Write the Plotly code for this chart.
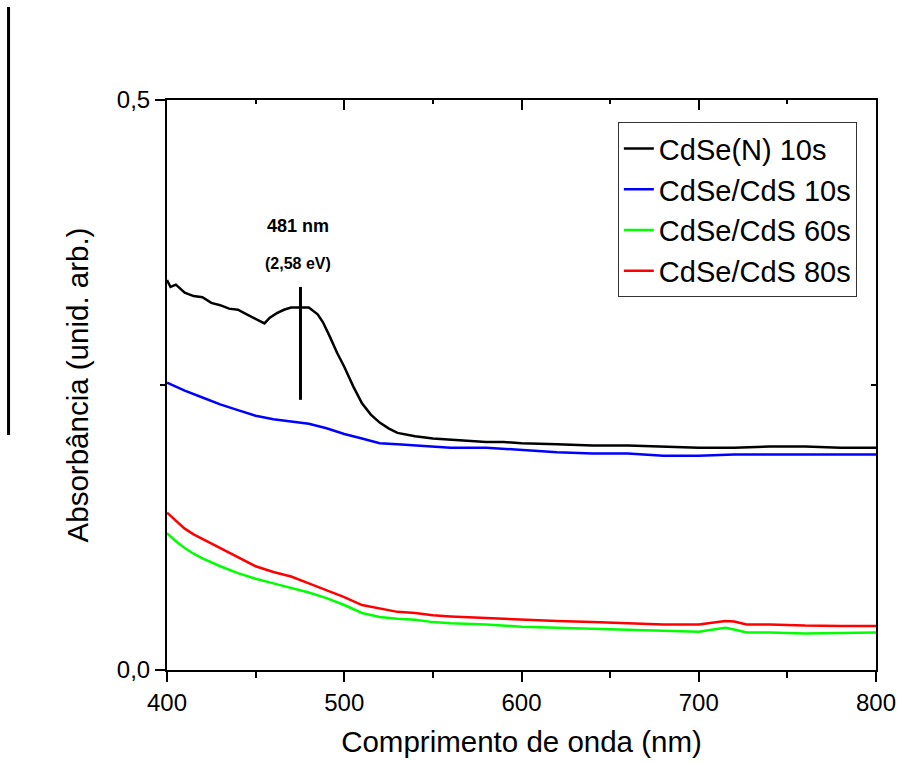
import plotly.graph_objects as go

# ---- data ----
wl_black = [400, 402, 405, 410, 415, 420, 425, 430, 435, 440, 445, 450, 455, 458, 462, 466, 470, 475, 480,
            485, 488, 492, 496, 500, 505, 510, 515, 520, 525, 530, 540, 550, 560, 570, 580, 590, 600, 620,
            640, 660, 680, 700, 720, 740, 760, 780, 800]
abs_black = [0.342, 0.336, 0.338, 0.331, 0.328, 0.327, 0.322, 0.320, 0.317, 0.316, 0.312, 0.308, 0.304, 0.309,
             0.313, 0.316, 0.318, 0.318, 0.318, 0.312, 0.305, 0.292, 0.278, 0.266, 0.249, 0.234, 0.224, 0.217,
             0.212, 0.208, 0.205, 0.203, 0.202, 0.201, 0.200, 0.200, 0.199, 0.198, 0.197, 0.197, 0.196, 0.195,
             0.195, 0.196, 0.196, 0.195, 0.195]

wl_blue = [400, 410, 420, 430, 440, 450, 460, 470, 480, 490, 500, 510, 520, 530, 540, 550, 560, 580, 600,
           620, 640, 660, 680, 700, 720, 740, 760, 780, 800]
abs_blue = [0.252, 0.245, 0.239, 0.233, 0.228, 0.223, 0.220, 0.218, 0.216, 0.212, 0.207, 0.203, 0.199, 0.198,
            0.197, 0.196, 0.195, 0.195, 0.193, 0.191, 0.190, 0.190, 0.188, 0.188, 0.189, 0.189, 0.189, 0.189, 0.189]

wl_gr = [400, 405, 410, 415, 420, 430, 440, 450, 460, 470, 480, 490, 500, 510, 520, 530, 540, 550, 560, 580,
         600, 620, 640, 660, 680, 700, 710, 715, 720, 727, 740, 760, 780, 800]
abs_green = [0.120, 0.113, 0.107, 0.102, 0.098, 0.091, 0.085, 0.080, 0.076, 0.072, 0.068, 0.063, 0.057, 0.050,
             0.0465, 0.045, 0.044, 0.042, 0.041, 0.040, 0.038, 0.037, 0.036, 0.035, 0.034, 0.0335, 0.036, 0.037,
             0.0355, 0.033, 0.033, 0.032, 0.0325, 0.033]
abs_red = [0.138, 0.131, 0.124, 0.119, 0.115, 0.107, 0.099, 0.091, 0.086, 0.082, 0.076, 0.070, 0.064, 0.057,
           0.054, 0.051, 0.050, 0.048, 0.047, 0.0455, 0.044, 0.043, 0.042, 0.041, 0.040, 0.040, 0.042, 0.043,
           0.0425, 0.040, 0.040, 0.039, 0.0387, 0.0387]

names = ["CdSe(N) 10s", "CdSe/CdS 10s", "CdSe/CdS 60s", "CdSe/CdS 80s"]
colors = ["#000000", "#0000ff", "#00ff00", "#ff0000"]

peak_wl = 475.3
peak_y = [0.237, 0.336]

FONT = "Arial, Liberation Sans, sans-serif"

fig = go.Figure()
series = [(wl_black, abs_black), (wl_blue, abs_blue), (wl_gr, abs_green), (wl_gr, abs_red)]
for (x, y), n, c in zip(series, names, colors):
    fig.add_trace(go.Scatter(x=x, y=y, mode="lines", name=n, line=dict(color=c, width=2.5)))

# invisible trace for the mirrored top/right axes
fig.add_trace(go.Scatter(x=[400, 800], y=[0, 0.5], xaxis="x2", yaxis="y2", mode="lines",
                         line=dict(width=0), showlegend=False, hoverinfo="skip"))

# peak marker
fig.add_shape(type="line", xref="x", yref="y", x0=peak_wl, x1=peak_wl, y0=peak_y[0], y1=peak_y[1],
              line=dict(color="black", width=3))
fig.add_annotation(x=474, y=0.3895, xref="x", yref="y", text="<b>481 nm</b>", showarrow=False,
                   font=dict(family=FONT, size=18, color="black"))
fig.add_annotation(x=474, y=0.357, xref="x", yref="y", text="<b>(2,58 eV)</b>", showarrow=False,
                   font=dict(family=FONT, size=16, color="black"))

# stray vertical line at the far left
fig.add_shape(type="line", xref="paper", yref="paper", x0=-0.2235, x1=-0.2235, y0=0.4123, y1=1.1632,
              line=dict(color="black", width=3))

axis_common = dict(showline=True, linecolor="black", linewidth=2, showgrid=False, zeroline=False,
                   tickcolor="black", tickwidth=2, automargin=False)

fig.update_layout(
    width=897, height=762,
    margin=dict(l=167, r=21, t=100, b=92),
    plot_bgcolor="white", paper_bgcolor="white",
    separators=",.",
    font=dict(family=FONT, color="black"),
    xaxis=dict(range=[400, 800], tickvals=[400, 500, 600, 700, 800], ticks="outside", ticklen=10,
               minor=dict(tickvals=[450, 550, 650, 750], ticks="outside", ticklen=6, tickcolor="black", tickwidth=2),
               tickfont=dict(size=24), title=dict(text="Comprimento de onda (nm)", font=dict(size=29.5), standoff=17),
               **axis_common),
    yaxis=dict(range=[0, 0.5], tickvals=[0, 0.5], tickformat=".1f", ticks="outside", ticklen=10,
               minor=dict(tickvals=[0.25], ticks="outside", ticklen=5, tickcolor="black", tickwidth=2),
               tickfont=dict(size=24), title=dict(text="Absorbância (unid. arb.)", font=dict(size=29.5), standoff=20),
               **axis_common),
    xaxis2=dict(range=[400, 800], overlaying="x", side="top", tickvals=[400, 500, 600, 700, 800],
                ticks="inside", ticklen=10, showticklabels=False,
                minor=dict(tickvals=[450, 550, 650, 750], ticks="inside", ticklen=4, tickcolor="black", tickwidth=2),
                **axis_common),
    yaxis2=dict(range=[0, 0.5], overlaying="y", side="right", tickvals=[0, 0.5], ticks="inside", ticklen=10,
                showticklabels=False,
                minor=dict(tickvals=[0.25], ticks="inside", ticklen=5, tickcolor="black", tickwidth=2),
                **axis_common),
    legend=dict(x=0.973, y=0.961, xanchor="right", yanchor="top", bgcolor="white", bordercolor="#333",
                borderwidth=1, font=dict(size=29, family=FONT), tracegroupgap=0),
    showlegend=True,
)

fig.write_html("out.html", config={"displayModeBar": False},
               post_script="document.body.style.margin='0';document.body.style.padding='0';"
                           "document.body.style.overflow='hidden';"
                           "document.documentElement.style.overflow='hidden';")
